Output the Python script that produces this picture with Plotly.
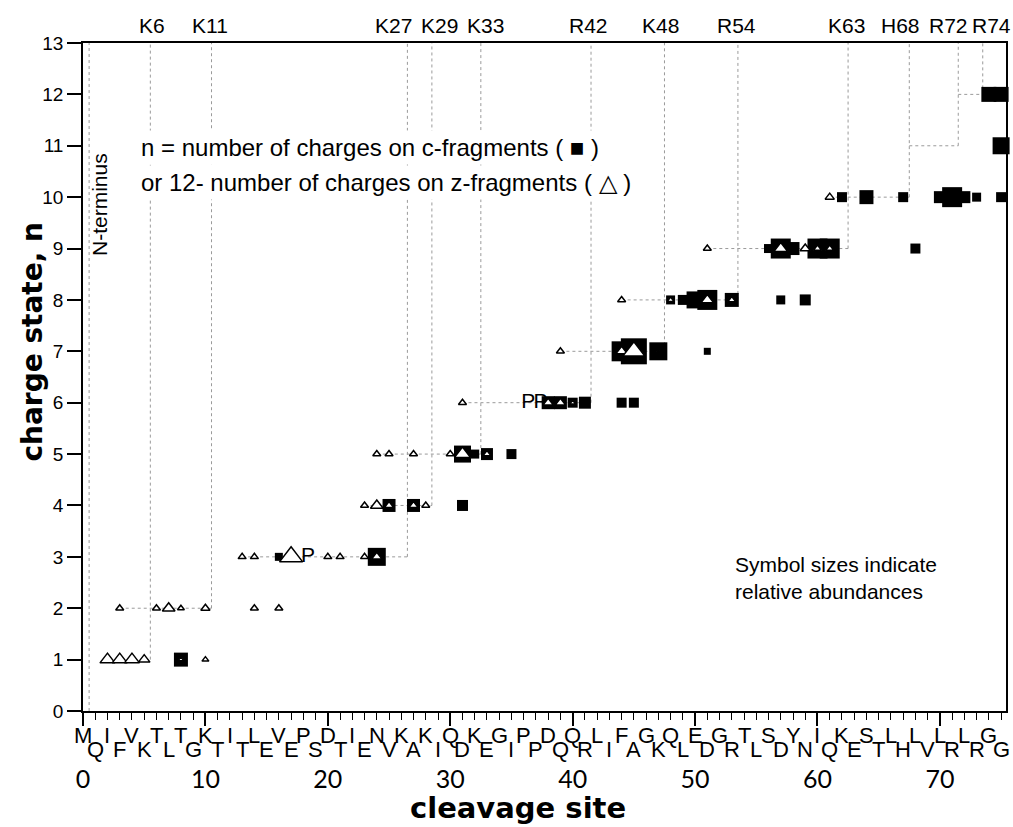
import plotly.graph_objects as go

# ---------------- data ----------------
residues = list("MQIFVKTLTGKTITLEVEPSDTIENVKAKIQDKEGIPPDQQRLIFAGKQLEDGRTLSDYNIQKESTLHLVLRLRGG")
residue_index = list(range(len(residues)))

# c-fragments (filled squares): cleavage site, charge n, relative abundance (marker size)
c_site = [8, 16, 24, 25, 27, 31, 31, 32, 33, 35, 38, 39, 40, 41, 44, 45,
          44, 45, 47, 51, 48, 49, 50, 51, 53, 57, 59, 56, 57, 58, 60, 61, 68,
          62, 64, 67, 70, 71, 72, 73, 75, 75, 74, 75]
c_charge = [1, 3, 3, 4, 4, 4, 5, 5, 5, 5, 6, 6, 6, 6, 6, 6,
            7, 7, 7, 7, 8, 8, 8, 8, 8, 8, 8, 9, 9, 9, 9, 9, 9,
            10, 10, 10, 10, 10, 10, 10, 10, 11, 12, 12]
c_abund = [14, 8, 18, 13, 13, 11, 17, 9, 12, 10, 13, 13, 10, 12, 10, 10,
           20, 26, 18, 7, 9, 10, 17, 20, 14, 9, 11, 9, 20, 13, 20, 20, 10,
           10, 14, 10, 12, 20, 12, 9, 10, 17, 15, 15]

# z-fragments (open triangles): cleavage site, 12 - charge, relative abundance
z_site = [2, 3, 4, 5, 8, 10,
          3, 6, 7, 8, 10, 14, 16,
          13, 14, 16, 17, 20, 21, 23, 24,
          23, 24, 25, 27, 28,
          24, 25, 27, 30, 31, 33,
          31, 38, 39, 40,
          39, 44, 45, 47,
          44, 48, 51, 53,
          51, 57, 59, 60, 61,
          61]
z_charge = [1, 1, 1, 1, 1, 1,
            2, 2, 2, 2, 2, 2, 2,
            3, 3, 3, 3, 3, 3, 3, 3,
            4, 4, 4, 4, 4,
            5, 5, 5, 5, 5, 5,
            6, 6, 6, 6,
            7, 7, 7, 7,
            8, 8, 8, 8,
            9, 9, 9, 9, 9,
            10]
z_abund = [13, 13, 13, 10, 5, 6,
           7, 7, 11, 6, 8, 7, 7,
           7, 7, 4, 20, 7, 7, 7, 9,
           7, 11, 8, 8, 7,
           7, 7, 7, 7, 14, 7,
           7, 9, 9, 5,
           7, 10, 19, 3,
           7, 6, 11, 7,
           7, 12, 9, 7, 7,
           8]

# prolines (no cleavage) marked with "P"
pro_site = [18, 36, 37]
pro_charge = [3, 6, 6]

# basic residues: label, cleavage line position, charge where the step starts
basic_labels = ["K6", "K11", "K27", "K29", "K33", "R42", "K48", "R54", "K63", "H68", "R72", "R74"]
basic_site = [5.5, 10.5, 26.5, 28.5, 32.5, 41.5, 47.5, 53.5, 62.5, 67.5, 71.5, 73.5]
basic_charge = [1, 2, 3, 4, 5, 6, 7, 8, 9, 10, 11, 12]
basic_label_x = [5.6, 10.4, 25.4, 29.1, 32.9, 41.3, 47.2, 53.4, 62.4, 66.8, 70.7, 74.2]

# horizontal steps: charge n, first site
step_charge = [2, 3, 4, 5, 6, 7, 8, 9, 10, 11, 12]
step_start = [3, 13, 23, 24, 31, 39, 44, 51, 61, 67.5, 71.5]

N_TERM = 0.5
Y_MAX = 13

FONT = "Liberation Sans, Arial, sans-serif"
TITLE_FONT = "DejaVu Sans, sans-serif"
TICK_FONT = "Lato, Liberation Sans, sans-serif"
DOT = dict(color="#9a9a9a", width=1, dash="dot")

fig = go.Figure()

# Proline labels
fig.add_trace(go.Scatter(
    x=[s + 0.38 for s in pro_site], y=pro_charge, mode="text", text=["P"] * len(pro_site),
    textfont=dict(family=FONT, size=21, color="black"), hoverinfo="skip", showlegend=False))

# c-fragments
fig.add_trace(go.Scatter(
    x=c_site, y=c_charge, mode="markers",
    marker=dict(symbol="square", size=c_abund, color="black", opacity=1, line=dict(width=0)),
    showlegend=False, cliponaxis=False))

# z-fragments
fig.add_trace(go.Scatter(
    x=z_site, y=z_charge, mode="markers",
    marker=dict(symbol="triangle-up", size=z_abund, color="white", opacity=1,
                line=dict(width=1.5, color="black")),
    showlegend=False, cliponaxis=False))

shapes = []
# N-terminus line
shapes.append(dict(type="line", xref="x", yref="y", x0=N_TERM, x1=N_TERM, y0=0, y1=Y_MAX, line=DOT, layer="below"))
# vertical lines at basic residues
for xs, n in zip(basic_site, basic_charge):
    shapes.append(dict(type="line", xref="x", yref="y", x0=xs, x1=xs, y0=n, y1=Y_MAX, line=DOT, layer="below"))
# horizontal steps
for n, xs in zip(step_charge, step_start):
    shapes.append(dict(type="line", xref="x", yref="y", x0=xs, x1=basic_site[n - 1], y0=n, y1=n, line=DOT, layer="below"))

annotations = []
# residue letters along the x axis (two staggered rows)
for i, aa in zip(residue_index, residues):
    annotations.append(dict(x=i, y=0, xref="x", yref="paper", text=aa, showarrow=False,
                            yanchor="middle", xanchor="center", yshift=-24 if i % 2 == 0 else -38,
                            font=dict(family=FONT, size=22, color="black")))
# basic residue labels above the plot
for lab, lx in zip(basic_labels, basic_label_x):
    annotations.append(dict(x=lx, y=1, xref="x", yref="paper", text=lab, showarrow=False,
                            yanchor="middle", xanchor="center", yshift=18,
                            font=dict(family=FONT, size=21, color="black")))
# explanation texts
annotations.append(dict(x=4.4, y=10.96, xref="x", yref="y", xanchor="left", yanchor="middle",
                        text="n = number of charges on c-fragments ( \u25a0 )", showarrow=False,
                        bgcolor="white", borderpad=3, font=dict(family=FONT, size=24, color="black")))
annotations.append(dict(x=4.4, y=10.29, xref="x", yref="y", xanchor="left", yanchor="middle",
                        text="or 12- number of charges on z-fragments ( \u25b3 )", showarrow=False,
                        bgcolor="white", borderpad=3, font=dict(family=FONT, size=24, color="black")))
annotations.append(dict(x=53.1, y=2.58, xref="x", yref="y", xanchor="left", yanchor="middle", align="left",
                        text="Symbol sizes indicate<br>relative abundances", showarrow=False,
                        font=dict(family=FONT, size=21, color="black")))
annotations.append(dict(x=1.4, y=9.85, xref="x", yref="y", xanchor="center", yanchor="middle", textangle=-90,
                        text="N-terminus", showarrow=False, font=dict(family=FONT, size=21, color="black")))
# axis titles
annotations.append(dict(x=0.471, y=0, xref="paper", yref="paper", yshift=-97, xanchor="center", yanchor="middle",
                        text="<b>cleavage site</b>", showarrow=False,
                        font=dict(family=TITLE_FONT, size=29, color="black")))
annotations.append(dict(x=0, y=0.553, xref="paper", yref="paper", xshift=-50, xanchor="center", yanchor="middle",
                        textangle=-90, text="<b>charge state, n</b>", showarrow=False,
                        font=dict(family=TITLE_FONT, size=28, color="black")))

fig.update_layout(
    width=1013, height=827,
    margin=dict(l=83, r=5, t=43, b=116),
    paper_bgcolor="white", plot_bgcolor="white",
    shapes=shapes, annotations=annotations,
    xaxis=dict(range=[0, 75.4], showgrid=False, zeroline=False,
               showline=True, linecolor="black", linewidth=1.5, mirror=True,
               ticks="outside", tickvals=[0, 10, 20, 30, 40, 50, 60, 70], ticklen=13, tickwidth=1.5,
               tickcolor="black", ticklabelstandoff=32,
               tickfont=dict(family=TICK_FONT, size=25, color="black"),
               minor=dict(dtick=1, tick0=0, ticks="outside", ticklen=7, tickwidth=1, tickcolor="black", showgrid=False)),
    yaxis=dict(range=[0, Y_MAX], dtick=1, showgrid=False, zeroline=False,
               showline=True, linecolor="black", linewidth=1.5, mirror=True,
               ticks="outside", ticklen=14, tickwidth=1.5, tickcolor="black",
               tickfont=dict(family=FONT, size=19, color="black")),
)

fig.write_html("out.html")
